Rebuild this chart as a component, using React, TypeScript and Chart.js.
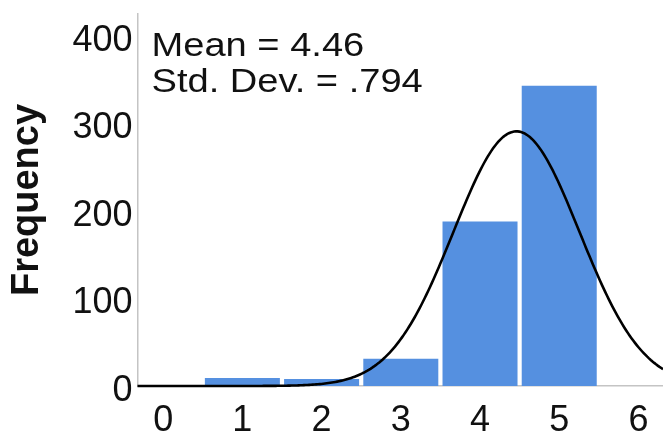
import React, { useEffect, useRef } from "react";
import { Chart, registerables } from "chart.js";

Chart.register(...registerables);

// ---- data ----
const BIN_CENTERS = [1, 2, 3, 4, 5];
const COUNTS = [9, 8, 31, 188, 343];
const MEAN = 4.46;
const STD_DEV = 0.794;
const BIN_WIDTH = 1;
const X_TICKS = [0, 1, 2, 3, 4, 5, 6];
const Y_TICKS = [0, 100, 200, 300, 400];
const X_MIN = -0.324;
const X_MAX = 6.31;
const Y_MAX = 425;
const STAT_LINES = ["Mean = 4.46", "Std. Dev. = .794"];

const FONT = '"Liberation Sans", Arial, Helvetica, sans-serif';

function normalCurve() {
  const total = COUNTS.reduce((a, b) => a + b, 0);
  const pts: { x: number; y: number }[] = [];
  const steps = 300;
  for (let i = 0; i <= steps; i++) {
    const x = X_MIN + ((X_MAX - X_MIN) * i) / steps;
    const z = (x - MEAN) / STD_DEV;
    const y = (total * BIN_WIDTH * Math.exp(-0.5 * z * z)) / (STD_DEV * Math.sqrt(2 * Math.PI));
    pts.push({ x, y });
  }
  return pts;
}

const statsPlugin = {
  id: "statsText",
  afterDraw(chart: any) {
    const { ctx, chartArea } = chart;
    ctx.save();
    ctx.font = `34px ${FONT}`;
    ctx.fillStyle = "#111";
    ctx.textBaseline = "alphabetic";
    ctx.textAlign = "left";
    STAT_LINES.forEach((t, i) => {
      ctx.save();
      ctx.translate(chartArea.left + 14, chartArea.top + 42 + i * 36);
      ctx.scale(1.12, 1);
      ctx.fillText(t, 0, 0);
      ctx.restore();
    });
    ctx.restore();
  },
};

export default function App() {
  const ref = useRef<HTMLCanvasElement | null>(null);

  useEffect(() => {
    if (!ref.current) return;
    const chart = new Chart(ref.current, {
      type: "bar",
      data: {
        datasets: [
          {
            type: "line",
            data: normalCurve(),
            borderColor: "#000",
            borderWidth: 2.6,
            pointRadius: 0,
            tension: 0,
            order: 0,
            clip: false,
          } as any,
          {
            type: "bar",
            data: BIN_CENTERS.map((c, i) => ({ x: c, y: COUNTS[i] })),
            backgroundColor: "#5590e0",
            borderWidth: 0,
            barPercentage: 0.947,
            categoryPercentage: 1,
            order: 1,
          } as any,
        ],
      },
      options: {
        responsive: false,
        animation: false,
        devicePixelRatio: 1,
        layout: { padding: { top: 14, right: 0, left: 0, bottom: 0 } },
        plugins: {
          legend: { display: false },
          tooltip: { enabled: false },
        },
        scales: {
          x: {
            type: "linear",
            min: X_MIN,
            max: X_MAX,
            offset: false,
            grid: { display: false, drawTicks: false },
            border: { display: true, color: "#c4c4c4", width: 1.5 },
            afterBuildTicks: (scale: any) => {
              scale.ticks = X_TICKS.map((v) => ({ value: v }));
            },
            afterFit: (scale: any) => {
              scale.height = 50;
              scale.paddingLeft = 0;
              scale.paddingRight = 0;
            },
            ticks: {
              color: "#111",
              padding: 13,
              maxRotation: 0,
              autoSkip: false,
              font: { family: FONT, size: 36 },
              callback: (v: any) => String(v),
            },
          },
          y: {
            type: "linear",
            min: 0,
            max: Y_MAX,
            grid: { display: false, drawTicks: false },
            border: { display: true, color: "#c4c4c4", width: 1.5 },
            afterBuildTicks: (scale: any) => {
              scale.ticks = Y_TICKS.map((v) => ({ value: v }));
            },
            afterFit: (scale: any) => {
              scale.width = 137.5;
              scale.paddingTop = 0;
              scale.paddingBottom = 0;
            },
            title: {
              display: true,
              text: "Frequency",
              color: "#111",
              font: { family: FONT, size: 38, weight: "bold", lineHeight: 1.2 },
              padding: { top: 5, bottom: 0 },
            },
            ticks: {
              color: "#111",
              padding: 5,
              labelOffset: 5,
              font: { family: FONT, size: 36 },
              callback: (v: any) => String(v),
            },
          },
        },
      },
      plugins: [statsPlugin],
    } as any);
    return () => chart.destroy();
  }, []);

  return (
    <div style={{ position: "fixed", left: 0, top: 0, width: 663, height: 436, background: "#fff" }}>
      <canvas ref={ref} width={663} height={436} style={{ width: 663, height: 436, display: "block" }} />
    </div>
  );
}
